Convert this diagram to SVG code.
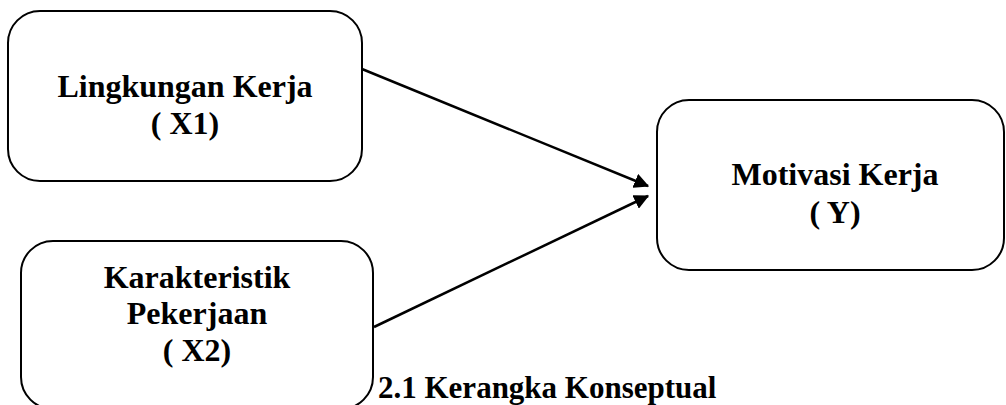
<svg xmlns="http://www.w3.org/2000/svg" width="1006" height="405" viewBox="0 0 1006 405">
<style>
.box{fill:#fff;stroke:#000;stroke-width:2}
.t{font-family:"Liberation Serif","Times New Roman",serif;font-weight:bold;font-size:32px;text-anchor:middle;fill:#000}
.c{stroke:#000;stroke-width:2.5;fill:none}
</style>
<defs>
<marker id="ah" markerWidth="6" markerHeight="6" refX="5.5" refY="3" orient="auto" markerUnits="strokeWidth">
<path d="M0,0 L6,3 L0,6 z" fill="#000"/>
</marker>
</defs>
<rect width="1006" height="405" fill="#fff"/>
<g id="connectors">
<line class="c" x1="362" y1="69" x2="648" y2="186" marker-end="url(#ah)"/>
<line class="c" x1="374" y1="327" x2="648" y2="196" marker-end="url(#ah)"/>
</g>
<g id="x1">
<rect class="box" x="8" y="11" width="354" height="170" rx="32"/>
<text class="t" x="185" y="97">Lingkungan Kerja</text>
<text class="t" x="185" y="134">( X1)</text>
</g>
<g id="x2">
<rect class="box" x="21" y="241" width="352" height="168" rx="32"/>
<text class="t" x="197" y="288">Karakteristik</text>
<text class="t" x="197" y="324">Pekerjaan</text>
<text class="t" x="197" y="361">( X2)</text>
</g>
<g id="y">
<rect class="box" x="657" y="100" width="347" height="170" rx="32"/>
<text class="t" x="835" y="185">Motivasi Kerja</text>
<text class="t" x="835" y="223">( Y)</text>
</g>
<text class="t" x="378" y="398" style="text-anchor:start;font-size:31px">2.1 Kerangka Konseptual</text>
</svg>
